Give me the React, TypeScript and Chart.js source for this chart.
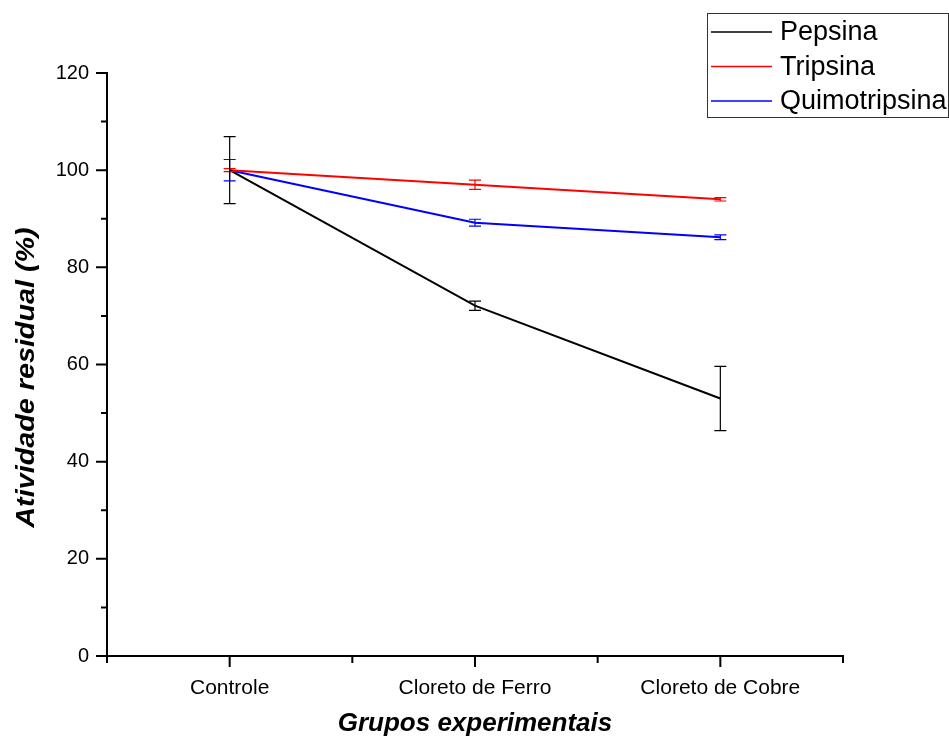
import React, { useEffect, useRef } from "react";
import { Chart, registerables } from "chart.js";

Chart.register(...registerables);

const categories = ["Controle", "Cloreto de Ferro", "Cloreto de Cobre"];
const seriesNames = ["Pepsina", "Tripsina", "Quimotripsina"];
const seriesColors = ["#000000", "#ff0000", "#0000ff"];
const pepsina = [100, 72.1, 53.0];
const pepsinaErr = [6.9, 0.95, 6.6];
const tripsina = [100, 97.0, 94.0];
const tripsinaErr = [0.3, 0.95, 0.35];
const quimotripsina = [100, 89.2, 86.2];
const quimotripsinaErr = [2.2, 0.7, 0.5];
const yMajorTicks = [0, 20, 40, 60, 80, 100, 120];
const yMinorTicks = [10, 30, 50, 70, 90, 110];
const xMinorTicks = [-0.5, 0.5, 1.5, 2.5];
const xTitle = "Grupos experimentais";
const yTitle = "Atividade residual (%)";

const seriesValues = [pepsina, tripsina, quimotripsina];
const seriesErrors = [pepsinaErr, tripsinaErr, quimotripsinaErr];

const FONT = "'Liberation Sans', Arial, Helvetica, sans-serif";

const errorBarPlugin = {
  id: "errorBars",
  afterDatasetsDraw(chart: any) {
    const ctx = chart.ctx;
    const xs = chart.scales.x;
    const ys = chart.scales.y;
    ctx.save();
    for (let di = seriesValues.length - 1; di >= 0; di--) {
      const vals = seriesValues[di];
      const errs = seriesErrors[di];
      ctx.strokeStyle = seriesColors[di];
      ctx.lineWidth = 1.2;
      vals.forEach((v, i) => {
        const px = xs.getPixelForValue(i);
        const top = ys.getPixelForValue(v + errs[i]);
        const bot = ys.getPixelForValue(v - errs[i]);
        ctx.beginPath();
        ctx.moveTo(px, top);
        ctx.lineTo(px, bot);
        ctx.moveTo(px - 6, top);
        ctx.lineTo(px + 6, top);
        ctx.moveTo(px - 6, bot);
        ctx.lineTo(px + 6, bot);
        ctx.stroke();
      });
    }
    ctx.restore();
  },
};

const axisTicksPlugin = {
  id: "axisTicks",
  afterDraw(chart: any) {
    const ctx = chart.ctx;
    const xs = chart.scales.x;
    const ys = chart.scales.y;
    const { left, bottom, top } = chart.chartArea;
    ctx.save();
    ctx.strokeStyle = "#000";
    ctx.lineWidth = 2;
    ctx.beginPath();
    yMajorTicks.forEach((t) => {
      const py = ys.getPixelForValue(t);
      ctx.moveTo(left - 11, py);
      ctx.lineTo(left, py);
    });
    yMinorTicks.forEach((t) => {
      const py = ys.getPixelForValue(t);
      ctx.moveTo(left - 6, py);
      ctx.lineTo(left, py);
    });
    categories.forEach((_, i) => {
      const px = xs.getPixelForValue(i);
      ctx.moveTo(px, bottom);
      ctx.lineTo(px, bottom + 11);
    });
    xMinorTicks.forEach((t) => {
      const px = xs.getPixelForValue(t);
      ctx.moveTo(px, bottom);
      ctx.lineTo(px, bottom + 7);
    });
    ctx.stroke();

    // y-axis title (stretched along its length like the reference)
    ctx.translate(34, (top + bottom) / 2 + 13);
    ctx.rotate(-Math.PI / 2);
    ctx.scale(1.15, 1);
    ctx.fillStyle = "#000";
    ctx.font = `italic bold 25px ${FONT}`;
    ctx.textAlign = "center";
    ctx.textBaseline = "alphabetic";
    ctx.fillText(yTitle, 0, 0);
    ctx.restore();
  },
};

const legendPlugin = {
  id: "boxLegend",
  afterDraw(chart: any) {
    const ctx = chart.ctx;
    ctx.save();
    ctx.strokeStyle = "#333";
    ctx.lineWidth = 1;
    ctx.strokeRect(707.5, 13.5, 241, 104);
    ctx.font = `27px ${FONT}`;
    ctx.textBaseline = "middle";
    ctx.textAlign = "left";
    seriesNames.forEach((name, i) => {
      const cy = 32 + i * 34.5;
      ctx.strokeStyle = seriesColors[i];
      ctx.lineWidth = 1.5;
      ctx.beginPath();
      ctx.moveTo(711, cy);
      ctx.lineTo(772, cy);
      ctx.stroke();
      ctx.fillStyle = "#000";
      ctx.fillText(name, 780, cy + 1);
    });
    ctx.restore();
  },
};

export default function App() {
  const canvasRef = useRef<HTMLCanvasElement | null>(null);

  useEffect(() => {
    if (!canvasRef.current) return;
    const datasets = seriesNames.map((name, di) => ({
      label: name,
      data: seriesValues[di].map((v, i) => ({ x: i, y: v })),
      borderColor: seriesColors[di],
      backgroundColor: seriesColors[di],
      borderWidth: 2,
      pointRadius: 0,
      pointHoverRadius: 0,
      fill: false,
      tension: 0,
    }));
    const chart = new Chart(canvasRef.current, {
      type: "line",
      data: { datasets },
      options: {
        animation: false,
        responsive: false,
        events: [],
        layout: { padding: { top: 73, right: 106, left: 0, bottom: 0 } },
        plugins: {
          legend: { display: false },
          tooltip: { enabled: false },
        },
        scales: {
          x: {
            type: "linear",
            min: -0.5,
            max: 2.5,
            afterBuildTicks: (scale: any) => {
              scale.ticks = categories.map((_, i) => ({ value: i }));
            },
            afterFit: (scale: any) => {
              scale.height = 86;
            },
            ticks: {
              autoSkip: false,
              maxRotation: 0,
              minRotation: 0,
              padding: 20,
              color: "#000",
              font: { family: FONT, size: 21 },
              callback: (v: any) => categories[Math.round(Number(v))] ?? "",
            },
            grid: { display: false, drawTicks: false, drawOnChartArea: false },
            border: { display: true, color: "#000", width: 2 },
            title: {
              display: true,
              text: xTitle,
              color: "#000",
              font: { family: FONT, size: 26, style: "italic", weight: "bold" },
              padding: { top: 0, bottom: 3 },
            },
          },
          y: {
            type: "linear",
            min: 0,
            max: 120,
            afterBuildTicks: (scale: any) => {
              scale.ticks = yMajorTicks.map((v) => ({ value: v }));
            },
            afterFit: (scale: any) => {
              scale.width = 107;
            },
            ticks: {
              padding: 18,
              color: "#000",
              font: { family: FONT, size: 20 },
            },
            grid: { display: false, drawTicks: false, drawOnChartArea: false },
            border: { display: true, color: "#000", width: 2 },
            title: { display: false },
          },
        },
      },
      plugins: [errorBarPlugin, axisTicksPlugin, legendPlugin],
    } as any);
    return () => chart.destroy();
  }, []);

  return (
    <div style={{ position: "absolute", left: 0, top: 0, width: 949, height: 742, background: "#fff" }}>
      <canvas ref={canvasRef} width={949} height={742} style={{ display: "block" }} />
    </div>
  );
}
